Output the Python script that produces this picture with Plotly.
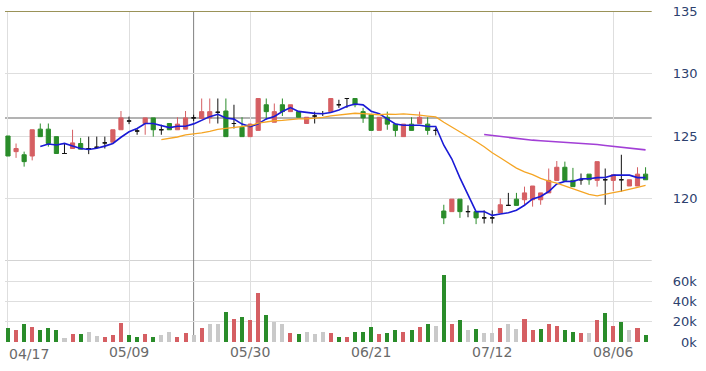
import plotly.graph_objects as go
import pandas as pd

# ---- data ----
opens = [125.0, 123.75, 123.5, 123.4, 125.55, 125.55, 124.95, 123.6, 124.0, 124.4,
         124.0, 124.1, 124.45, 124.5, 125.5, 126.2, 125.4, 126.0, 126.45, 125.5,
         126.0, 125.5, 125.55, 126.45, 126.4, 126.45, 126.9, 127.0, 126.0, 125.7,
         124.95, 125.45, 127.5, 126.1, 127.5, 126.95, 126.95, 126.0, 126.6, 126.8,
         126.95, 127.5, 128.0, 128.0, 126.95, 126.7, 125.45, 126.5, 125.95, 124.95,
         125.95, 126.0, 125.95, 125.45, 119.0, 118.95, 119.95, 118.95, 118.95, 118.45,
         118.45, 118.85, 119.45, 119.95, 119.9, 119.9, 119.9, 120.45, 121.45, 122.5,
         121.45, 121.5, 121.95, 121.45, 121.5, 121.45, 121.5, 121.0, 121.0, 121.95]
highs = [125.0, 124.4, 123.75, 125.5, 126.0, 126.0, 124.95, 124.4, 125.5, 124.85,
         124.95, 124.95, 124.95, 125.5, 127.0, 126.55, 125.6, 126.45, 126.45, 125.9,
         126.0, 126.5, 127.0, 126.7, 128.0, 128.0, 128.0, 128.0, 127.5, 126.5,
         126.0, 128.0, 128.0, 127.6, 128.0, 127.5, 126.95, 126.5, 126.95, 127.0,
         128.0, 127.9, 128.0, 128.0, 127.25, 126.7, 126.5, 126.95, 125.95, 125.95,
         126.5, 126.95, 126.5, 125.65, 119.5, 119.95, 119.95, 119.45, 118.95, 119.05,
         119.05, 120.0, 120.45, 120.45, 120.95, 121.0, 120.45, 122.4, 123.0, 122.95,
         122.45, 122.0, 121.95, 122.95, 122.4, 121.9, 123.5, 121.5, 122.5, 122.5]
lows = [123.4, 123.25, 122.55, 123.05, 124.95, 124.15, 123.6, 123.6, 124.0, 123.95,
        123.55, 124.0, 124.0, 124.5, 125.5, 125.95, 125.1, 125.1, 124.95, 125.1,
        125.5, 125.5, 125.55, 126.2, 126.4, 126.0, 126.0, 124.95, 125.6, 124.95,
        124.95, 125.45, 126.3, 126.1, 126.6, 126.95, 126.5, 126.0, 126.0, 126.6,
        126.95, 127.25, 127.25, 127.3, 126.05, 125.45, 125.45, 125.5, 124.95, 124.95,
        125.45, 126.0, 125.1, 125.05, 117.95, 118.95, 118.45, 118.5, 117.95, 118.0,
        118.0, 118.85, 119.45, 119.45, 119.5, 119.35, 119.5, 120.45, 121.45, 121.45,
        120.95, 121.1, 121.1, 120.95, 119.5, 120.6, 120.55, 121.0, 121.0, 121.5]
closes = [123.4, 124.0, 122.95, 125.5, 124.95, 124.4, 123.6, 123.6, 124.45, 123.95,
          124.0, 124.1, 124.45, 125.5, 126.45, 126.2, 125.4, 126.45, 125.5, 125.5,
          125.5, 125.95, 126.45, 126.45, 126.95, 126.95, 126.9, 124.95, 126.0, 124.95,
          125.95, 128.0, 126.95, 126.95, 126.95, 127.5, 126.5, 126.5, 126.6, 126.8,
          128.0, 127.5, 128.0, 127.5, 126.45, 125.45, 126.5, 125.95, 125.45, 125.95,
          125.45, 126.5, 125.45, 125.45, 118.45, 119.95, 118.95, 118.95, 118.45, 118.45,
          118.45, 119.5, 119.45, 119.45, 120.45, 121.0, 120.45, 121.45, 122.5, 121.45,
          120.95, 121.5, 121.5, 122.95, 121.5, 121.9, 121.5, 121.5, 121.95, 121.5]
volume_k = [13.7, 11.8, 17.6, 15.0, 11.5, 13.7, 11.5, 3.9, 7.8, 7.8,
            10.0, 6.2, 5.2, 6.5, 18.9, 6.5, 5.2, 7.8, 5.2, 6.5,
            10.0, 5.2, 9.1, 6.5, 14.0, 17.6, 17.6, 29.7, 22.3, 24.8,
            22.2, 48.3, 26.2, 19.6, 17.6, 9.1, 7.8, 10.0, 7.8, 10.0,
            9.1, 5.2, 5.2, 10.0, 10.0, 15.0, 7.8, 9.1, 11.5, 10.0,
            11.5, 15.0, 17.6, 16.3, 65.7, 17.6, 21.3, 11.5, 12.7, 9.1,
            9.1, 14.0, 17.6, 12.7, 22.5, 11.5, 12.7, 17.6, 16.3, 11.5,
            10.0, 9.1, 9.1, 21.3, 28.7, 16.3, 19.9, 11.5, 14.0, 6.5]
# change of close vs previous day: u = up, d = down, f = flat
vol_change = ["d", "u", "d", "u", "d", "d", "d", "f", "u", "d",
              "f", "f", "u", "u", "u", "d", "d", "u", "d", "f",
              "f", "u", "u", "f", "u", "f", "f", "d", "u", "d",
              "u", "u", "d", "f", "f", "u", "d", "f", "f", "f",
              "u", "d", "u", "d", "d", "d", "u", "d", "d", "u",
              "d", "u", "d", "f", "d", "u", "d", "f", "d", "f",
              "f", "u", "f", "f", "u", "u", "d", "u", "u", "d",
              "d", "u", "f", "u", "d", "u", "d", "f", "u", "d"]
tick_index = [0, 15, 30, 45, 60, 75]
tick_labels = ["04/17", "05/09", "05/30", "06/21", "07/12", "08/06"]
price_ticks = [120, 125, 130, 135]
volume_ticks = [0, 20000, 40000, 60000]
volume_tick_labels = ["\u20070k", "20k", "40k", "60k"]
reference_price = 126.45
marker_index = 23
ma_windows = [5, 20, 60]

# ---- styles ----
RED = "#d55f63"
GREEN = "#2a8c2a"
GRAY = "#c9c9c9"
GRID = "#dedede"
FONT = "DejaVu Sans"
ma_colors = {5: "#1a1ad6", 20: "#f5a524", 60: "#a23fd6"}
ma_widths = {5: 1.6, 20: 1.3, 60: 1.6}

n = len(closes)
xs = list(range(n))

X0, X1 = 5 / 706, 651.7 / 706
P_DOM = [(371 - 261) / 371, (371 - 11) / 371]
V_DOM = [(371 - 342) / 371, (371 - 261) / 371]

fig = go.Figure()


def candle(idx, color):
    side = dict(line=dict(color=color, width=1), fillcolor=color)
    return go.Candlestick(
        x=[xs[i] for i in idx], open=[opens[i] for i in idx],
        high=[highs[i] for i in idx], low=[lows[i] for i in idx],
        close=[closes[i] for i in idx],
        increasing=side, decreasing=side, whiskerwidth=0,
        xaxis="x", yaxis="y", showlegend=False, hoverinfo="skip")


up = [i for i in xs if closes[i] > opens[i]]
dn = [i for i in xs if closes[i] < opens[i]]
fl = [i for i in xs if closes[i] == opens[i]]
fig.add_trace(candle(up, RED))
fig.add_trace(candle(dn, GREEN))
fig.add_trace(candle(fl, "#111111"))

s = pd.Series(closes)
for w in ma_windows:
    ma = s.rolling(w).mean()
    fig.add_trace(go.Scatter(
        x=xs, y=[None if pd.isna(v) else v for v in ma], mode="lines",
        line=dict(color=ma_colors[w], width=ma_widths[w]),
        xaxis="x", yaxis="y", showlegend=False, hoverinfo="skip"))

cmap = {"u": RED, "d": GREEN, "f": GRAY}
fig.add_trace(go.Bar(
    x=xs, y=[v * 1000 for v in volume_k],
    marker=dict(color=[cmap[c] for c in vol_change], line=dict(width=0)),
    width=0.5, xaxis="x2", yaxis="y2", showlegend=False, hoverinfo="skip"))

axis_common = dict(showline=False, zeroline=False, ticks="", showgrid=True,
                   gridcolor=GRID, gridwidth=1, automargin=False)

fig.update_layout(
    template="none",
    width=706, height=371, margin=dict(l=0, r=0, t=0, b=0, pad=0),
    paper_bgcolor="white", plot_bgcolor="white", showlegend=False,
    boxgap=0.26, bargap=0,
    xaxis=dict(domain=[X0, X1], anchor="y", range=[-0.37, 79.76],
               tickvals=tick_index, showticklabels=False,
               rangeslider=dict(visible=False), **axis_common),
    xaxis2=dict(domain=[X0, X1], anchor="y2", matches="x",
                tickvals=tick_index, ticktext=[""] + tick_labels[1:],
                tickfont=dict(family=FONT, size=14, color="#6a6a6a"),
                **axis_common),
    yaxis=dict(domain=P_DOM, anchor="x", side="right", range=[115, 135],
               tickvals=price_ticks, ticklabelstandoff=20,
               tickfont=dict(family=FONT, size=13, color="#2d416e"),
               **axis_common),
    yaxis2=dict(domain=V_DOM, anchor="x2", side="right", range=[0, 80000],
                tickvals=volume_ticks, ticktext=volume_tick_labels,
                ticklabelstandoff=20,
                tickfont=dict(family=FONT, size=13, color="#2d416e"),
                **axis_common),
    annotations=[dict(text=tick_labels[0], xref="paper", yref="paper",
                      x=7 / 706, y=(371 - 354) / 371, xanchor="left",
                      yanchor="middle", showarrow=False,
                      font=dict(family=FONT, size=14, color="#6a6a6a"))],
    shapes=[
        dict(type="line", xref="paper", yref="y", x0=X0, x1=X1, y0=135, y1=135,
             line=dict(color="#9a9258", width=2), layer="above"),
        dict(type="line", xref="paper", yref="y", x0=X0, x1=X1,
             y0=reference_price, y1=reference_price,
             line=dict(color="#9a9a9a", width=1.5), layer="between"),
        dict(type="line", xref="paper", yref="y", x0=X0, x1=X1, y0=115, y1=115,
             line=dict(color="#c4c4c4", width=1.5), layer="between"),
        dict(type="line", xref="x", yref="paper", x0=marker_index, x1=marker_index,
             y0=V_DOM[0], y1=P_DOM[1], line=dict(color="#808080", width=1),
             layer="between"),
    ],
)

fig.write_html("out.html")
